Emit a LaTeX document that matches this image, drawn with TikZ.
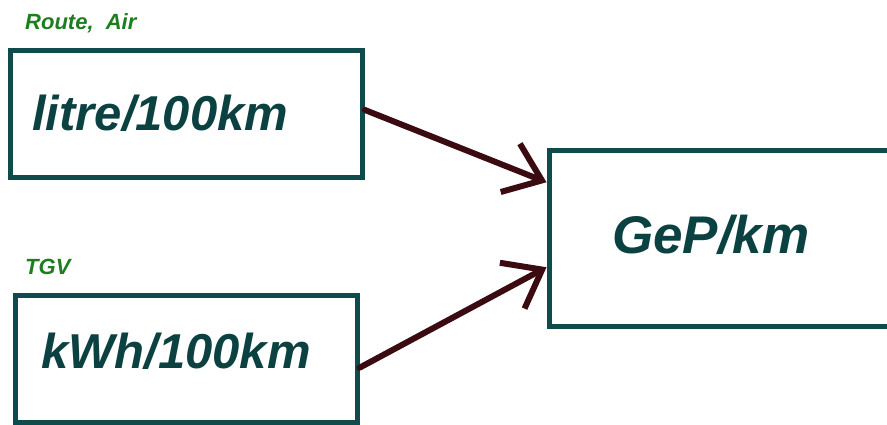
\documentclass[tikz,border=0pt]{standalone}
\usepackage{fontspec}
\setmainfont{Liberation Sans}
\usetikzlibrary{arrows.meta}
\definecolor{boxcol}{HTML}{0E4B4A}
\definecolor{txtcol}{HTML}{0C4141}
\definecolor{lblcol}{HTML}{1E7E1E}
\definecolor{arrcol}{HTML}{3A0C12}
\begin{document}
\begin{tikzpicture}[x=1pt,y=-1pt,
  unitbox/.style={draw=boxcol, line width=5pt, rectangle, inner sep=0pt, fill=white},
  unittext/.style={text=txtcol, font=\bfseries\itshape\fontsize{#1}{#1}\selectfont, inner sep=0pt, anchor=base west},
  grouplabel/.style={text=lblcol, font=\bfseries\itshape\fontsize{22}{22}\selectfont, inner sep=0pt, anchor=base west},
  conv/.style={draw=arrcol, line width=6pt, line cap=round, -{Straight Barb[length=34pt,width=52pt,line width=6pt]}}]
\clip (0,0) rectangle (887,424);
\fill[white] (0,0) rectangle (887,424);
% boxes
\node[unitbox, minimum width=352pt, minimum height=127pt] (b1) at (186.5,114) {};
\node[unitbox, minimum width=341.5pt, minimum height=126.5pt] (b2) at (186.25,358.75) {};
\node[unitbox, minimum width=360pt, minimum height=176.5pt] (b3) at (729,238.25) {};
% texts
\node[unittext=49] (t1) at (32,130) {litre/100km};
\node[unittext=49] (t2) at (41,368) {kWh/100km};
\node[unittext=53] (t3) at (612,253) {GeP/km};
\node[grouplabel] (l1) at (25,29) {Route,\ \ Air};
\node[grouplabel] (l2) at (25,274) {TGV};
% arrows
\coordinate (s1) at ([yshift=4pt]b1.east);
\coordinate (e1) at ([yshift=56pt]b3.west);
\coordinate (s2) at ([yshift=-9pt]b2.east);
\coordinate (e2) at ([yshift=-29pt]b3.west);
\draw[conv] (s1) -- (e1);
\draw[conv] (s2) -- (e2);
\end{tikzpicture}
\end{document}
